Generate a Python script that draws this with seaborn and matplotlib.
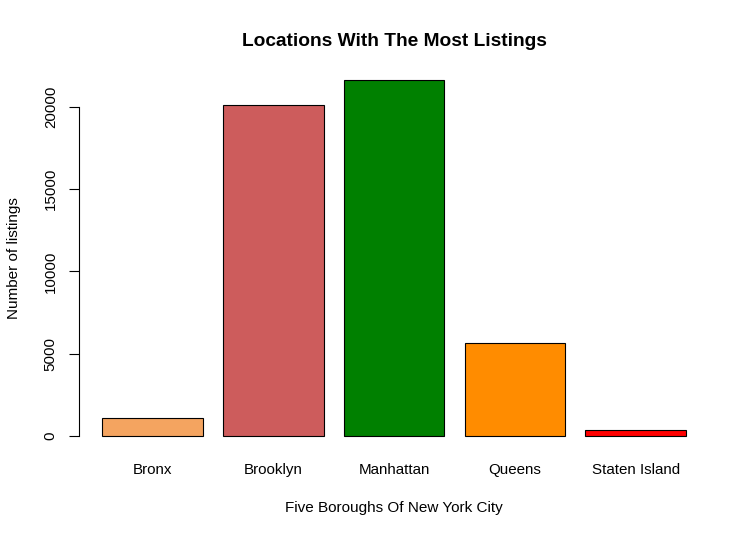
import matplotlib
matplotlib.use("Agg")
import matplotlib.pyplot as plt
import seaborn as sns
import pandas as pd

sns.set_theme(style="white")
plt.rcParams['font.family'] = ['Liberation Sans', 'DejaVu Sans']

# ==========================================
# DATA
# ==========================================
boroughs = ['Bronx', 'Brooklyn', 'Manhattan', 'Queens', 'Staten Island']
listings = [1091, 20104, 21661, 5666, 373]
bar_colors = ['#F4A460', '#CD5C5C', '#008000', '#FF8C00', '#FF0000']
y_ticks = [0, 5000, 10000, 15000, 20000]

df = pd.DataFrame({'borough': boroughs, 'listings': listings})

# ==========================================
# PLOT
# ==========================================
fig = plt.figure(figsize=(7.49, 5.38), dpi=100)
ax = fig.add_axes([0.105, 0.1631, 0.8422, 0.7153])

sns.barplot(data=df, x='borough', y='listings', hue='borough',
            palette=bar_colors, legend=False, width=1 / 1.2,
            edgecolor='black', linewidth=0.8, saturation=1, ax=ax)

ax.set_xlim(-0.61, 4.61)
ax.set_ylim(-866.44, 22527.44)

# R-style axes: only left axis, spanning the tick range
for side in ['top', 'right', 'bottom']:
    ax.spines[side].set_visible(False)
ax.spines['left'].set_bounds(0, 20000)
ax.spines['left'].set_color('black')
ax.spines['left'].set_linewidth(0.8)

ax.set_yticks(y_ticks)
ax.set_yticklabels([str(t) for t in y_ticks], rotation=90, va='center', fontsize=10.9)
ax.tick_params(axis='y', left=True, length=7, width=0.8, color='black', pad=8, labelcolor='black')
ax.tick_params(axis='x', bottom=False, length=0, pad=9, labelsize=10.9, labelcolor='black')

ax.set_xlabel('Five Boroughs Of New York City', fontsize=11, color='black')
ax.xaxis.set_label_coords(0.5, -0.150)
ax.xaxis.label.set_va('center')
ax.set_ylabel('Number of listings', fontsize=11, color='black')
ax.yaxis.set_label_coords(-0.1024, 0.5)
ax.yaxis.label.set_va('center')

ax.set_title('Locations With The Most Listings', fontsize=13.8, fontweight='bold',
             y=1.063, va='center', pad=0, color='black')

fig.savefig('out.png', dpi=100)
